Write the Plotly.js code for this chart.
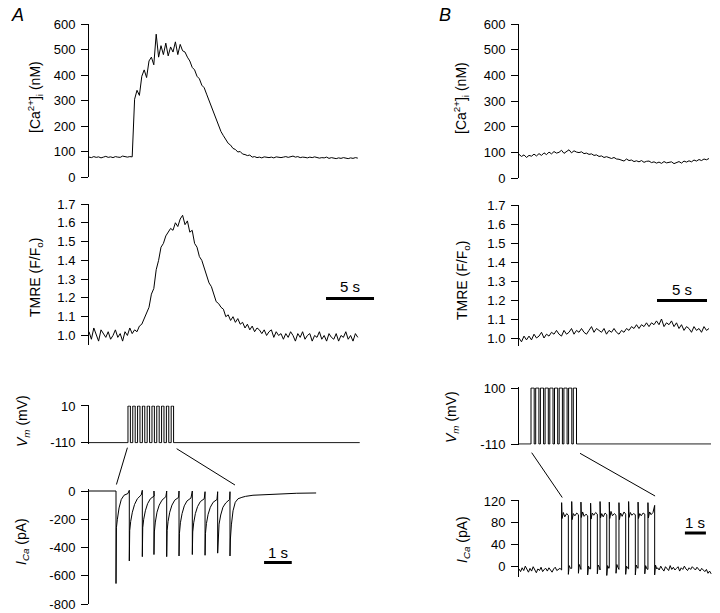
<!DOCTYPE html>
<html><head><meta charset="utf-8">
<script src="https://cdn.plot.ly/plotly-3.0.1.min.js"></script>
<style>html,body{margin:0;padding:0;background:#fff}#chart{width:720px;height:613px}</style>
</head><body><div id="chart"></div>
<script>
// ---------------- DATA ----------------
// Panel A fluorescence traces, sampled every 0.25 s
const dtA = 0.25;
const caA = [78,76,80,77,79,75,78,81,77,79,76,80,78,77,82,79,78,80,79,
  305,340,320,395,420,390,455,470,440,560,
  470,515,480,525,475,510,490,530,480,520,
  495,490,470,455,430,420,395,385,360,350,
  325,300,275,245,220,198,178,162,145,132,
  125,112,108,98,100,90,88,84,86,78,
  80,76,78,75,79,77,76,78,75,79,77,76,78,80,77,79,82,78,80,76,
  78,77,75,78,76,79,77,74,76,75,78,73,76,74,72,75,73,76,74,72,75,73,76,74];
const tmreA = [1.02,0.98,1.04,1.00,0.97,1.03,1.01,0.99,1.02,0.98,1.00,1.03,0.99,1.01,0.97,1.02,1.00,1.04,1.01,1.03,
  1.02,1.05,1.06,1.09,1.13,1.15,1.22,1.25,1.35,
  1.40,1.47,1.49,1.53, 1.55,1.57,1.56,1.60, 1.58,1.62,1.64,1.59, 1.61,1.55,1.56,1.49,
  1.47,1.42,1.40,1.36, 1.31,1.28,1.26,1.22, 1.18,1.17,1.15,1.14, 1.10,1.11,1.08,1.10,
  1.07,1.09,1.06,1.07, 1.04,1.06,1.03,1.05, 1.02,1.04,1.03,1.01, 1.03,1.00,1.02,1.03, 0.99,1.02,1.00,1.01,
  0.98,1.01,0.99,1.02,1.00,0.97,1.01,0.99,1.02,0.98,1.00,1.01,0.97,1.00,0.99,1.02,
  0.98,1.00,0.97,1.01,0.99,0.98,1.01,0.97,1.00,0.99,1.02,0.98,1.00,0.97,1.01,0.99];
// Panel B fluorescence traces, sampled every 0.25 s
const dtB = 0.25;
const caB = [92,84,90,80, 88,85,93,86, 95,88,98,91, 101,94,103,97, 100,108,96,104,
  110,98,106,101, 99,102,95,97, 92,94,88,90, 84,86,80,83, 78,76,80,74,
  73,70,66,74, 68,70,64,67, 63,68,61,65, 66,60,63,58, 62,57,64,59,
  60,63,56,61, 64,58,66,62, 67,63,70,66, 72,68,74,71, 76];
const tmreB = [1.00,0.98,1.01,0.99, 1.01,0.99,1.02,1.00, 1.01,1.03,1.00,1.02, 1.01,1.03,1.02,1.04,
  1.02,1.01,1.04,1.02, 1.03,1.05,1.02,1.04, 1.03,1.05,1.03,1.02, 1.04,1.06,1.03,1.05,
  1.04,1.03,1.05,1.02, 1.04,1.03,1.05,1.03, 1.02,1.04,1.03,1.05, 1.04,1.06,1.05,1.07,
  1.05,1.07,1.06,1.08, 1.06,1.08,1.07,1.09, 1.07,1.10,1.06,1.08, 1.07,1.09,1.06,1.08,
  1.05,1.07,1.04,1.06, 1.05,1.03,1.06,1.04, 1.05,1.03,1.06,1.04, 1.05];

// Voltage protocols (s, mV)
const vmA_hold = -110, vmA_step = 10, vmA_end = 28.2;
const vmA_on  = [4.06,4.56,5.06,5.56,6.06,6.56,7.06,7.56,8.06,8.56];
const vmA_off = [4.31,4.81,5.31,5.81,6.31,6.81,7.31,7.81,8.31,8.81];
const vmB_hold = -110, vmB_step = 100, vmB_end = 19.2;
const vmB_on  = [1.20,1.67,2.14,2.61,3.08,3.55,4.02,4.49,4.96,5.43];
const vmB_off = [1.52,1.99,2.46,2.93,3.40,3.87,4.34,4.81,5.28,5.75];

// Panel A current (s, pA)
const icaA_preT = [0, 0.975], icaA_preV = [0, 0];
const icaA_onsets = [0.975,1.455,1.925,2.345,2.805,3.25,3.73,4.19,4.645,5.09];
const icaA_offsets = [0, 0, 0.015, 0.05, 0.11, 0.19, 0.29, 0.43];
const icaA_pulses = [
  [0,-655,-260,-200,-120,-60,-30,-18],
  [5,-495,-280,-215,-150,-95,-55,-28],
  [5,-465,-260,-200,-140,-90,-55,-35],
  [0,-450,-290,-220,-150,-100,-65,-40],
  [0,-465,-280,-215,-150,-100,-65,-45],
  [0,-460,-300,-225,-160,-105,-70,-50],
  [0,-450,-290,-225,-160,-110,-75,-55],
  [-5,-455,-300,-230,-165,-115,-80,-60],
  [-5,-440,-310,-235,-170,-115,-85,-60],
  [-5,-460,-340,-240,-140,-80,-55,-45]
];
const icaA_postT = [5.65,5.92,6.4,6.9,7.5,8.2];
const icaA_postV = [-38,-30,-25,-20,-16,-14];

// Panel B current (s, pA)
const dtIB = 0.075;
const icaB_pre = [-4,-9,-2,-7,1,-6,-10,-3,-8,0,-5,-11,-4,-7,-1,-9,-5,-3,-8,-2,-6,-10,-4,-1,-7,-5,-3];
const icaB_onsets = [2.03,2.51,2.95,3.41,3.86,4.30,4.76,5.22,5.67,6.14];
const icaB_offsets = [0, 0, 0.02, 0.08, 0.15, 0.24, 0.32, 0.32, 0.36, 0.42];
const icaB_pulses = [
  [-6,117,88,99,91,97,94,-14,2,-3],
  [-3,119,86,97,93,98,95,-12,4,-2],
  [-5,118,90,100,92,96,93,-15,1,-4],
  [-4,116,87,98,94,99,96,-13,3,-1],
  [-6,119,89,97,91,98,95,-16,2,-3],
  [-2,118,88,101,93,97,94,-12,4,-2],
  [-5,117,86,98,92,100,96,-14,1,-3],
  [-4,119,90,99,94,97,95,-15,3,-2],
  [-3,118,88,97,93,98,96,-13,2,-4],
  [-5,117,89,100,95,99,112,-15,3,-4]
];
const icaB_postStart = 6.6;
const icaB_post = [-2,-6,1,-4,-8,0,-3,-7,2,-5,-1,-6,-3,0,-8,-2,-5,1,-4,-7,-2,-5,0,-3,-6,-1,-4,-8,-3,-6,-9,-5,-12,-8,-13];

// Tick labels
const tickCa = [0,100,200,300,400,500,600];
const tickTMRE = [1.0,1.1,1.2,1.3,1.4,1.5,1.6,1.7];
const tickVmA = [-110,10];
const tickVmB = [-110,100];
const tickIA = [-800,-600,-400,-200,0];
const tickIB = [0,40,80,120];

// Scale bars (s)
const barA_flu = [24.69, 29.69], barB_flu = [13.8, 18.8];
const barA_i = [6.32, 7.32], barB_i = [7.9, 8.9];
// Zoom connector anchors (s)
const zoomA = {vmFrom:4.0, vmTo:9.13, iFrom:0.99, iTo:5.27};
const zoomB = {vmFrom:1.27, vmTo:6.1, iFrom:2.06, iTo:6.48};

// ---------------- BUILD ----------------
const W = 720, H = 613;
const FONT = 'Liberation Sans, Arial, sans-serif';
const px = x => x / W, py = y => 1 - y / H;

function series(arr, dt, t0){ return arr.map((_, i) => (t0 || 0) + i * dt); }
function stepTrace(hold, step, on, off, tEnd){
  const t = [0], v = [hold];
  on.forEach((s, i) => { t.push(s, s, off[i], off[i]); v.push(hold, step, step, hold); });
  t.push(tEnd); v.push(hold);
  return {t, v};
}
function pulseTrace(preT, preV, onsets, offsets, pulses, postT, postV){
  const t = preT.slice(), v = preV.slice();
  onsets.forEach((T, i) => offsets.forEach((o, k) => { t.push(T + o); v.push(pulses[i][k]); }));
  return {t: t.concat(postT), v: v.concat(postV)};
}

// panel geometry in pixels
const geo = {
  A_flu: {x0:89, x1:380, pps:9.6},
  A_i:   {x0:89, x1:340, pps:27.7},
  B_flu: {x0:519, x1:715, pps:10},
  B_i:   {x0:519, x1:715, pps:21}
};
function xax(g){ return {domain:[px(g.x0), px(g.x1)], range:[0, (g.x1-g.x0)/g.pps], visible:false, fixedrange:true}; }
function yax(anchor, v1, p1, v2, p2, lo, hi, tickvals, ticktext){
  const pix = v => p1 + (v - v1) * (p2 - p1) / (v2 - v1);
  return {anchor, domain:[py(pix(lo)), py(pix(hi))], range:[lo, hi],
    showline:true, linecolor:'#000', linewidth:1, mirror:false,
    ticks:'outside', ticklen:7, tickwidth:1, tickcolor:'#000',
    tickvals, ticktext, showgrid:false, zeroline:false, fixedrange:true,
    tickfont:{family:FONT, size:13, color:'#000'}, ticklabelstandoff:3, _pix:pix};
}

const layout = {
  width:W, height:H, margin:{l:0,r:0,t:0,b:0}, paper_bgcolor:'#fff', plot_bgcolor:'rgba(0,0,0,0)',
  showlegend:false, font:{family:FONT, color:'#000'},
  xaxis: xax(geo.A_flu), xaxis2: xax(geo.A_flu), xaxis3: xax(geo.A_flu), xaxis4: xax(geo.A_i),
  xaxis5: xax(geo.B_flu), xaxis6: xax(geo.B_flu), xaxis7: xax(geo.B_flu), xaxis8: xax(geo.B_i),
  yaxis:  yax('x', 600,24, 0,177, 0,600, tickCa, tickCa.map(String)),
  yaxis2: yax('x2', 1.7,204, 1.1,316.7, 0.95,1.7, tickTMRE, tickTMRE.map(v=>v.toFixed(1))),
  yaxis3: yax('x3', 10,406, -110,442.7, -113,12, tickVmA, tickVmA.map(String)),
  yaxis4: yax('x4', 0,491, -800,604, -800,15, tickIA, tickIA.map(String)),
  yaxis5: yax('x5', 600,24, 0,178, 0,600, tickCa, tickCa.map(String)),
  yaxis6: yax('x6', 1.7,205, 1.1,319, 0.96,1.7, tickTMRE, tickTMRE.map(v=>v.toFixed(1))),
  yaxis7: yax('x7', 100,388, -110,444, -113,103, tickVmB, tickVmB.map(String)),
  yaxis8: yax('x8', 120,501, 0,566.7, -18,122, tickIB, tickIB.map(String)),
  shapes:[], annotations:[]
};
const pixY = {};
['yaxis','yaxis2','yaxis3','yaxis4','yaxis5','yaxis6','yaxis7','yaxis8'].forEach(k => { pixY[k] = layout[k]._pix; delete layout[k]._pix; });
const pixX = (g, t) => g.x0 + t * g.pps;

const line = {color:'#000', width:1};
const vA = stepTrace(vmA_hold, vmA_step, vmA_on, vmA_off, vmA_end);
const vB = stepTrace(vmB_hold, vmB_step, vmB_on, vmB_off, vmB_end);
const iA = pulseTrace(icaA_preT, icaA_preV, icaA_onsets, icaA_offsets, icaA_pulses, icaA_postT, icaA_postV);
const iBpreT = series(icaB_pre, dtIB, 0), iBpostT = series(icaB_post, dtIB, icaB_postStart);
const iB = pulseTrace(iBpreT, icaB_pre, icaB_onsets, icaB_offsets, icaB_pulses, iBpostT, icaB_post);

const data = [
  {x:series(caA, dtA), y:caA, xaxis:'x', yaxis:'y'},
  {x:series(tmreA, dtA), y:tmreA, xaxis:'x2', yaxis:'y2'},
  {x:vA.t, y:vA.v, xaxis:'x3', yaxis:'y3'},
  {x:iA.t, y:iA.v, xaxis:'x4', yaxis:'y4'},
  {x:series(caB, dtB), y:caB, xaxis:'x5', yaxis:'y5'},
  {x:series(tmreB, dtB), y:tmreB, xaxis:'x6', yaxis:'y6'},
  {x:vB.t, y:vB.v, xaxis:'x7', yaxis:'y7'},
  {x:iB.t, y:iB.v, xaxis:'x8', yaxis:'y8'}
].map(d => Object.assign({type:'scatter', mode:'lines', line, hoverinfo:'skip', cliponaxis:false}, d));

// scale bars
function bar(xref, tt, ypix, labelYpix, label){
  layout.shapes.push({type:'line', xref, yref:'paper', x0:tt[0], x1:tt[1], y0:py(ypix), y1:py(ypix), line:{color:'#000', width:3}});
  layout.annotations.push({xref, yref:'paper', x:(tt[0]+tt[1])/2, y:py(labelYpix), text:label, showarrow:false,
    xanchor:'center', yanchor:'middle', font:{family:FONT, size:15, color:'#000'}});
}
bar('x2', barA_flu, 298.5, 287, '5 s');
bar('x6', barB_flu, 300.5, 289, '5 s');
bar('x4', barA_i, 562.5, 552, '1 s');
bar('x8', barB_i, 533, 522, '1 s');

// zoom connectors
function connector(gv, tv, yv, offV, gi, ti, yi, offI){
  layout.shapes.push({type:'line', xref:'paper', yref:'paper',
    x0:px(pixX(gv, tv)), y0:py(yv + offV), x1:px(pixX(gi, ti)), y1:py(yi + offI), line:{color:'#000', width:1}});
}
connector(geo.A_flu, zoomA.vmFrom, pixY.yaxis3(-110), 5, geo.A_i, zoomA.iFrom, pixY.yaxis4(0), -6.5);
connector(geo.A_flu, zoomA.vmTo, pixY.yaxis3(-110), 6, geo.A_i, zoomA.iTo, pixY.yaxis4(0), -6);
connector(geo.B_flu, zoomB.vmFrom, pixY.yaxis7(-110), 8.7, geo.B_i, zoomB.iFrom, pixY.yaxis8(120), -3.5);
connector(geo.B_flu, zoomB.vmTo, pixY.yaxis7(-110), 9.3, geo.B_i, zoomB.iTo, pixY.yaxis8(120), -5);

// axis titles & panel letters
function vtitle(x, y, text){
  layout.annotations.push({xref:'paper', yref:'paper', x:px(x), y:py(y), text, textangle:-90, showarrow:false,
    xanchor:'center', yanchor:'middle', font:{family:FONT, size:14, color:'#000'}});
}
vtitle(35, 97, '[Ca<sup>2+</sup>]<sub>i</sub> (nM)');
vtitle(461, 98, '[Ca<sup>2+</sup>]<sub>i</sub> (nM)');
vtitle(36, 278, 'TMRE (F/F<sub>o</sub>)');
vtitle(463, 281, 'TMRE (F/F<sub>o</sub>)');
vtitle(23, 421, '<i>V</i><sub><i>m</i></sub> (mV)');
vtitle(452, 417, '<i>V</i><sub><i>m</i></sub> (mV)');
vtitle(22, 542, '<i>I</i><sub><i>Ca</i></sub> (pA)');
vtitle(463, 540, '<i>I</i><sub><i>Ca</i></sub> (pA)');
[['A',17,15],['B',445,15]].forEach(([s,x,y]) => layout.annotations.push({xref:'paper', yref:'paper', x:px(x), y:py(y),
  text:'<i>'+s+'</i>', showarrow:false, xanchor:'center', yanchor:'middle', font:{family:FONT, size:18, color:'#000'}}));

Plotly.newPlot('chart', data, layout, {staticPlot:true, displayModeBar:false});
</script></body></html>
